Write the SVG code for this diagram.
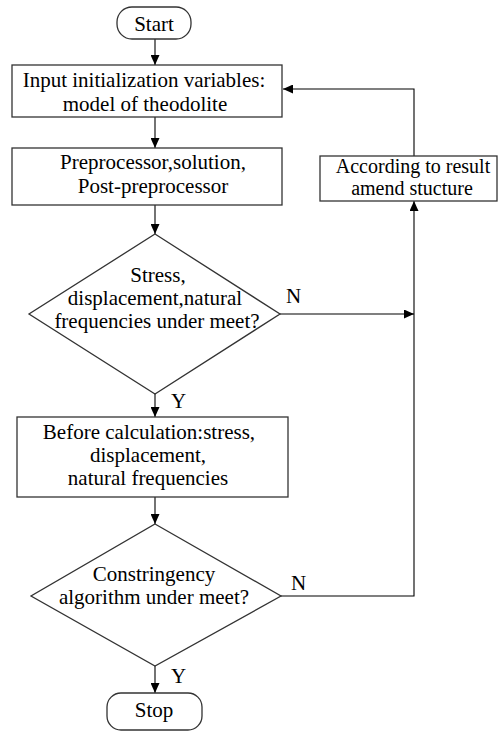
<svg xmlns="http://www.w3.org/2000/svg" width="501" height="731" viewBox="0 0 501 731">
<style>
.shape{fill:#fff;stroke:#333;stroke-width:1.3}
.conn{fill:none;stroke:#000;stroke-width:1.1}
text{font-family:"Liberation Serif","Times New Roman",Tinos,"DejaVu Serif",serif;font-size:21px;fill:#000;text-anchor:middle}
.lbl{text-anchor:start}
.sm{font-size:20px}
</style>
<defs>
<marker id="arr" markerUnits="userSpaceOnUse" markerWidth="10" markerHeight="9" refX="10" refY="4.5" orient="auto">
<path d="M0,0 L10,4.5 L0,9 z" fill="#000"/>
</marker>
</defs>
<rect width="501" height="731" fill="#fff"/>
<g id="connectors">
<line class="conn" x1="155" y1="39" x2="155" y2="65" marker-end="url(#arr)"/>
<line class="conn" x1="155" y1="117" x2="155" y2="148" marker-end="url(#arr)"/>
<line class="conn" x1="155" y1="205" x2="155" y2="234" marker-end="url(#arr)"/>
<line class="conn" x1="155" y1="394" x2="155" y2="417" marker-end="url(#arr)"/>
<line class="conn" x1="155" y1="497" x2="155" y2="524" marker-end="url(#arr)"/>
<line class="conn" x1="155" y1="666" x2="155" y2="693" marker-end="url(#arr)"/>
<line class="conn" x1="280" y1="314" x2="414" y2="314" marker-end="url(#arr)"/>
<polyline class="conn" points="281,596 414,596 414,201" marker-end="url(#arr)"/>
<polyline class="conn" points="414,156 414,89 283,89" marker-end="url(#arr)"/>
<text class="lbl" x="286" y="303">N</text>
<text class="lbl" x="291" y="590">N</text>
<text class="lbl" x="171" y="408">Y</text>
<text class="lbl" x="171" y="683">Y</text>
</g>
<g id="start">
<rect class="shape" x="117" y="7" width="74" height="32" rx="15" ry="15"/>
<text x="154" y="31">Start</text>
</g>
<g id="input">
<rect class="shape" x="12" y="65" width="270" height="52"/>
<text x="144" y="87">Input initialization variables:</text>
<text x="145" y="111">model of theodolite</text>
</g>
<g id="preprocess">
<rect class="shape" x="12" y="148" width="270" height="57"/>
<text x="153" y="169">Preprocessor,solution,</text>
<text x="153" y="193">Post-preprocessor</text>
</g>
<g id="check1">
<polygon class="shape" points="155,234 280,314 155,394 29,314"/>
<text x="158" y="282">Stress,</text>
<text x="155" y="305">displacement,natural</text>
<text x="157" y="328">frequencies under meet?</text>
</g>
<g id="amend">
<rect class="shape" x="320" y="156" width="177" height="45"/>
<text class="sm" x="413" y="173">According to result</text>
<text class="sm" x="412" y="195">amend stucture</text>
</g>
<g id="before">
<rect class="shape" x="17" y="417" width="271" height="80"/>
<text x="149" y="439">Before calculation:stress,</text>
<text x="148" y="462">displacement,</text>
<text x="148" y="485">natural frequencies</text>
</g>
<g id="check2">
<polygon class="shape" points="155,524 281,596 155,666 31,596"/>
<text x="154" y="581">Constringency</text>
<text x="154" y="604">algorithm under meet?</text>
</g>
<g id="stop">
<rect class="shape" x="107" y="693" width="95" height="37" rx="14" ry="14"/>
<text x="154" y="717">Stop</text>
</g>
</svg>
